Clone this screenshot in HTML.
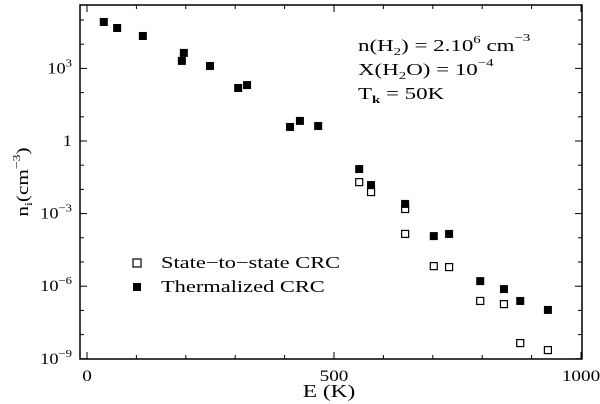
<!DOCTYPE html>
<html><head><meta charset="utf-8"><style>
body{margin:0;background:#fff}
svg{display:block;font-family:"Liberation Serif",serif}
</style></head><body>
<svg id="chart" width="600" height="404" viewBox="0 0 600 404">
<g id="axes"></g>
<g id="marks"></g>
<g font-size="17" fill="#000" transform="translate(358,0) scale(1.35,1) translate(-358,0)">
<text x="358" y="51">n(H<tspan font-size="11" dy="4">2</tspan><tspan dy="-4">) = 2.10</tspan><tspan font-size="11" dy="-8">6</tspan><tspan dy="8"> cm</tspan><tspan font-size="11" dy="-10">−3</tspan></text>
<text x="358" y="75">X(H<tspan font-size="11" dy="4">2</tspan><tspan dy="-4">O) = 10</tspan><tspan font-size="11" dy="-9">−4</tspan></text>
<text x="358" y="99">T<tspan font-size="11" dy="4" font-weight="bold">k</tspan><tspan dy="-4"> = 50K</tspan></text>
</g>
<g font-size="17">
<rect x="133" y="259" width="8" height="8" fill="#fff" stroke="#000" stroke-width="1.2"/>
<rect x="133" y="283" width="8" height="8" fill="#000"/>
<g transform="translate(161,0) scale(1.32,1) translate(-161,0)">
<text x="161" y="268">State−to−state CRC</text>
<text x="161" y="292">Thermalized CRC</text>
</g>
</g>
<g transform="translate(329,0) scale(1.3,1) translate(-329,0)">
<text x="329" y="397" font-size="18" text-anchor="middle">E (K)</text>
</g>
<text transform="translate(28,182) rotate(-90) scale(1.25,1)" font-size="17" text-anchor="middle">n<tspan font-size="11" dy="4">i</tspan><tspan dy="-4">(cm</tspan><tspan font-size="11" dy="-8">−3</tspan><tspan dy="8">)</tspan></text>
</svg>
<script>
const filledE=[34,61,113,192,196,249,306,324,411,431,468,551,575,644,702,733,796,844,877,933];
const filledLog=[4.92,4.67,4.34,3.31,3.64,3.10,2.19,2.31,0.58,0.83,0.62,-1.16,-1.82,-2.6,-3.93,-3.84,-5.79,-6.12,-6.61,-6.98];
const openE=[551,575,644,644,702,733,796,844,877,933];
const openLog=[-1.70,-2.11,-2.81,-3.84,-5.17,-5.21,-6.61,-6.74,-8.35,-8.64];
const xTicks=[0,500,1000];
const xTickLabels=["0","500","1000"];
const yTicks=[3,0,-3,-6,-9];
const yTickLabels=["10^3","1","10^-3","10^-6","10^-9"];
const NS="http://www.w3.org/2000/svg";
const L=80,R=582,T=5,B=359;
const xs=e=>87+e*0.494;
const ys=l=>141-l*24.2;
function mk(tag,at,parent){const el=document.createElementNS(NS,tag);for(const k in at)el.setAttribute(k,at[k]);parent.appendChild(el);return el;}
const axes=document.getElementById('axes'),marks=document.getElementById('marks');
const frame=mk('rect',{x:L,y:T,width:R-L,height:B-T,fill:'none',stroke:'#000','stroke-width':1.5},axes);


for(let e=0;e<=1000;e+=100){const x=xs(e),len=(e%500===0)?7:4;
 const t1=mk('line',{x1:x,x2:x,y1:B,y2:B-len,stroke:'#000','stroke-width':1},axes);
 
 
 const t2=mk('line',{x1:x,x2:x,y1:T,y2:T+len,stroke:'#000','stroke-width':1},axes);
 
 }
xTicks.forEach((v,i)=>{const t=mk('text',{x:xs(v),y:B+22,'font-size':16,'text-anchor':'middle',transform:`translate(${xs(v)},0) scale(1.2,1) translate(${-xs(v)},0)`},axes);t.textContent=xTickLabels[i];
 
 });
for(let l=-9;l<=5;l++){const y=ys(l),len=(l%3===0)?7:4;
 const t1=mk('line',{x1:L,x2:L+len,y1:y,y2:y,stroke:'#000','stroke-width':1},axes);
 
 
 const t2=mk('line',{x1:R,x2:R-len,y1:y,y2:y,stroke:'#000','stroke-width':1},axes);
 
 }
yTicks.forEach((v,i)=>{const t=mk('text',{x:L-8,y:ys(v)+5,'font-size':16,'text-anchor':'end',transform:`translate(${L-8},0) scale(1.15,1) translate(${-(L-8)},0)`},axes);
 const p=yTickLabels[i].split('^');
 if(p.length===1)t.textContent=p[0];else{t.textContent=p[0];const s=mk('tspan',{'font-size':11,dy:-7},t);s.textContent=p[1].replace('-','−');}
 
 });
openE.forEach((e,i)=>{const r=mk('rect',{x:xs(e)-3.5,y:ys(openLog[i])-3.5,width:7,height:7,fill:'#fff',stroke:'#000','stroke-width':1.2},marks);
 
 });
filledE.forEach((e,i)=>{const r=mk('rect',{x:xs(e)-4,y:ys(filledLog[i])-4,width:8,height:8,fill:'#000'},marks);
 
 });
</script>
</body></html>
